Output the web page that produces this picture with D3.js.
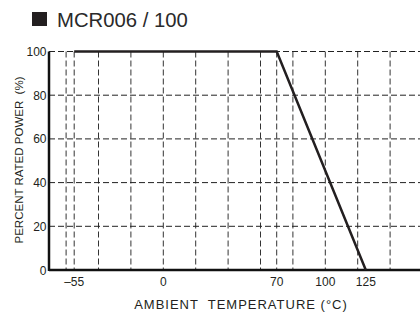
<!DOCTYPE html>
<html>
<head>
<meta charset="utf-8">
<script src="https://cdn.jsdelivr.net/npm/d3@7"></script>
<style>
  body { margin: 0; background: #fff; }
  svg { display: block; font-family: "Liberation Sans", Arial, sans-serif; }
</style>
</head>
<body>
<svg id="chart" width="420" height="315"></svg>
<script>
// Derating curve values
var curveTemp = [-55, 70, 125];
var curvePower = [100, 100, 0];
var xTickValues = [-55, 0, 70, 100, 125];
var yTickValues = [0, 20, 40, 60, 80, 100];
var gridTemps = [-60, -55, -40, -20, 0, 20, 40, 60, 70, 80, 100, 120, 140];
var gridPowers = [20, 40, 60, 80, 100];

var svg = d3.select("#chart");

var x = d3.scaleLinear().domain([0, 100]).range([163.3, 325.3]);
var y = d3.scaleLinear().domain([0, 100]).range([270, 51.5]);
var left = 49, right = 420;
var ink = "#231f20";

// title
svg.append("rect")
  .attr("x", 32).attr("y", 12).attr("width", 15).attr("height", 14)
  .style("fill", ink);
svg.append("text")
  .attr("x", 57).attr("y", 26.5)
  .style("font-size", "20.3px")
  .style("fill", "#2a2a2a")
  .text("MCR006 / 100");

// grid lines
svg.append("g").selectAll("line.vgrid")
  .data(gridTemps)
  .enter()
  .append("line")
  .attr("x1", function(d) { return x(d); })
  .attr("x2", function(d) { return x(d); })
  .attr("y1", y(100))
  .attr("y2", y(0))
  .style("stroke", "#333")
  .style("stroke-width", 1)
  .style("stroke-dasharray", "6,3");

svg.append("g").selectAll("line.hgrid")
  .data(gridPowers)
  .enter()
  .append("line")
  .attr("x1", left)
  .attr("x2", right)
  .attr("y1", function(d) { return y(d); })
  .attr("y2", function(d) { return y(d); })
  .style("stroke", "#222")
  .style("stroke-width", 1)
  .style("stroke-dasharray", "6,3");

// axes lines
svg.append("line")
  .attr("x1", left).attr("x2", left)
  .attr("y1", y(100)).attr("y2", y(0) + 1)
  .style("stroke", "#111").style("stroke-width", 2.5);
svg.append("line")
  .attr("x1", left).attr("x2", right)
  .attr("y1", y(0)).attr("y2", y(0))
  .style("stroke", "#111").style("stroke-width", 2.5);

// tick labels
svg.append("g").selectAll("text")
  .data(yTickValues)
  .enter()
  .append("text")
  .attr("x", 46.5)
  .attr("y", function(d) { return y(d) + 4.5; })
  .attr("text-anchor", "end")
  .style("font-size", "12px")
  .style("fill", ink)
  .text(function(d) { return d; });

svg.append("g").selectAll("text")
  .data(xTickValues)
  .enter()
  .append("text")
  .attr("x", function(d) { return x(d); })
  .attr("y", 286)
  .attr("text-anchor", "middle")
  .style("font-size", "12px")
  .style("fill", ink)
  .text(function(d) { return d < 0 ? "\u2013" + Math.abs(d) : d; });

// axis titles
svg.append("text")
  .attr("x", 241).attr("y", 309)
  .attr("text-anchor", "middle")
  .style("font-size", "13px")
  .style("letter-spacing", "1px")
  .style("fill", ink)
  .style("white-space", "pre")
  .text("AMBIENT  TEMPERATURE (\u00b0C)");

svg.append("text")
  .attr("transform", "translate(22.5,160) rotate(-90)")
  .attr("text-anchor", "middle")
  .style("font-size", "11.5px")
  .style("fill", ink)
  .style("white-space", "pre")
  .text("PERCENT RATED POWER  (%)");

// derating curve
var line = d3.line()
  .x(function(d) { return x(d[0]); })
  .y(function(d) { return y(d[1]); });

svg.append("path")
  .datum(d3.zip(curveTemp, curvePower))
  .attr("d", line)
  .style("fill", "none")
  .style("stroke", ink)
  .style("stroke-width", 2.5);
</script>
</body>
</html>
